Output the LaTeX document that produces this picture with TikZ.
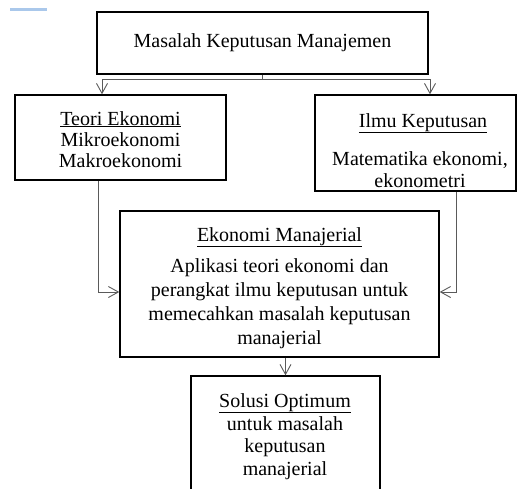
\documentclass[tikz,border=0pt]{standalone}
\usepackage{fontspec}
\setmainfont{Liberation Serif}
\usetikzlibrary{arrows.meta}
\definecolor{linegray}{RGB}{90,90,90}
\definecolor{accentblue}{RGB}{170,200,235}
\begin{document}
\begin{tikzpicture}[x=1pt,y=-1pt,
  box/.style={draw=black,line width=1.4pt,inner sep=0pt,rectangle},
  conn/.style={draw=linegray,line width=0.9pt},
  arr/.style={conn,-{Straight Barb[length=10pt,width=11pt]}},
  txt/.style={font=\fontsize{20}{24}\selectfont,align=center,inner sep=0pt,anchor=base}]
\clip (0,0) rectangle (525,488);
\draw[accentblue,line width=3pt] (10,9) -- (47,9);
% boxes
\node[box,minimum width=331pt,minimum height=62pt] (top) at (262.5,43) {};
\node[box,minimum width=211pt,minimum height=85pt] (left) at (120.5,137.5) {};
\node[box,minimum width=201pt,minimum height=96pt] (right) at (415.5,143) {};
\node[box,minimum width=319pt,minimum height=146pt] (eko) at (279.5,284) {};
\node[box,minimum width=189pt,minimum height=140pt] (sol) at (285.5,446) {};
% texts (base anchor = baseline of last line)
\node[txt] (toptxt) at (262.5,47) {Masalah Keputusan Manajemen};
\node[txt] (lefttitle) at (120.5,125) {\underline{Teori Ekonomi}};
\node[txt,font=\fontsize{20}{21}\selectfont] (leftbody) at (120.5,167) {Mikroekonomi\\Makroekonomi};
\node[txt] (righttitle) at (423,127) {\underline{Ilmu Keputusan}};
\node[txt,font=\fontsize{20}{22}\selectfont] (rightbody) at (420,187) {Matematika ekonomi,\\ekonometri};
\node[txt] (ekotitle) at (279.5,241) {\underline{Ekonomi Manajerial}};
\node[txt] (ekobody) at (279.5,344) {Aplikasi teori ekonomi dan\\perangkat ilmu keputusan untuk\\memecahkan masalah keputusan\\manajerial};
\node[txt] (soltitle) at (285,407) {\underline{Solusi Optimum}};
\node[txt,font=\fontsize{20}{22.5}\selectfont] (solbody) at (285,475) {untuk masalah\\keputusan\\manajerial};
% connectors
\draw[conn] (top.south) -- ++(0,5) coordinate (split);
\draw[arr] (split) -| ([xshift=-18.5pt]left.north);
\draw[arr] (split) -| ([xshift=14.5pt]right.north);
\draw[arr] ([xshift=-22.5pt]left.south) |- ([yshift=-8pt]eko.west);
\draw[arr] ([xshift=40.5pt]right.south) |- ([yshift=-8pt]eko.east);
\draw[arr] (sol.north |- eko.south) -- (sol.north);
\end{tikzpicture}
\end{document}
